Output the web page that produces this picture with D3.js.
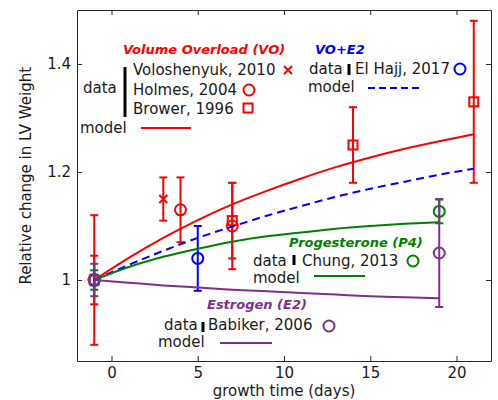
<!DOCTYPE html>
<html>
<head>
<meta charset="utf-8">
<script src="https://cdn.jsdelivr.net/npm/d3@7"></script>
<style>
  body { margin: 0; background: white; }
  svg { display: block; font-family: "DejaVu Sans", sans-serif; }
</style>
</head>
<body>
<svg id="chart" width="498" height="400"></svg>
<script>
// observed data: day, relative LV weight, error half-width
const voloDays = [3];
const voloVals = [1.15];
const voloErr = [0.04];

const holmesDays = [-1, 4, 7];
const holmesVals = [1.0, 1.13, 1.10];
const holmesErr = [0.12, 0.06, 0.08];

const browerDays = [-1, 7, 14, 21];
const browerVals = [1.0, 1.11, 1.25, 1.33];
const browerErr = [0.045, 0.07, 0.07, 0.15];

const hajjDays = [-1, 5];
const hajjVals = [1.0, 1.04];
const hajjErr = [0.01, 0.06];

const chungDays = [-1, 19];
const chungVals = [1.0, 1.127];
const chungErr = [0.018, 0.022];

const babikerDays = [-1, 19];
const babikerVals = [1.0, 1.05];
const babikerErr = [0.03, 0.1];

// model curves
const longDays = [-1, 1, 3, 5, 7, 9, 11, 13, 15, 17, 19, 21];
const voModel = [1, 1.041, 1.078, 1.111, 1.140, 1.165, 1.188, 1.209, 1.227, 1.243, 1.257, 1.270];
const voE2Model = [1, 1.028, 1.054, 1.078, 1.099, 1.119, 1.137, 1.154, 1.169, 1.182, 1.195, 1.206];
const shortDays = [-1, 1, 3, 5, 7, 9, 11, 13, 15, 17, 19];
const p4Model = [1, 1.024, 1.043, 1.058, 1.071, 1.081, 1.088, 1.095, 1.100, 1.104, 1.107];
const e2Model = [1, 0.995, 0.990, 0.986, 0.982, 0.979, 0.976, 0.973, 0.970, 0.968, 0.966];

const xTicks = [0, 5, 10, 15, 20];
const yTicks = [1, 1.2, 1.4];

const colours = { vo: "#ff0000", voe2: "#0000ff", p4: "#008000", e2: "#7e2f8e" };

const svg = d3.select("#chart");
const x = d3.scaleLinear().domain([-2, 22]).range([77, 491]);
const y = d3.scaleLinear().domain([0.85, 1.5]).range([361, 10]);

const zip = (days, vals, err) => days.map((d, i) => ({ t: d, v: vals[i], e: err ? err[i] : 0 }));

// axes
const axisCol = "#262626";
const gB = svg.append("g").attr("transform", `translate(0,${y.range()[0]})`)
    .call(d3.axisBottom(x).tickValues(xTicks).tickSizeInner(-5).tickSizeOuter(0).tickPadding(6));
const gL = svg.append("g").attr("transform", `translate(${x.range()[0]},0)`)
    .call(d3.axisLeft(y).tickValues(yTicks).tickSizeInner(-5).tickSizeOuter(0).tickPadding(6).tickFormat(d3.format("~g")));
const gT = svg.append("g").attr("transform", `translate(0,${y.range()[1]})`)
    .call(d3.axisTop(x).tickValues(xTicks).tickSizeInner(-5).tickSizeOuter(0).tickFormat(""));
const gR = svg.append("g").attr("transform", `translate(${x.range()[1]},0)`)
    .call(d3.axisRight(y).tickValues(yTicks).tickSizeInner(-5).tickSizeOuter(0).tickFormat(""));
[gB, gL, gT, gR].forEach(g => {
    g.selectAll("path, line").attr("stroke", axisCol);
    g.selectAll("text").attr("font-size", 15).attr("fill", "#1a1a1a").attr("font-family", "DejaVu Sans");
});

svg.append("text")
    .attr("x", x(10)).attr("y", 396)
    .attr("text-anchor", "middle").attr("font-size", 15).attr("fill", "#1a1a1a")
    .text("growth time (days)");
svg.append("text")
    .attr("transform", `translate(31,${y(1.193)})rotate(-90)`)
    .attr("text-anchor", "middle").attr("font-size", 15).attr("fill", "#1a1a1a")
    .text("Relative change in LV Weight");

// marker drawers
const drawMarker = (g, type, cx, cy, col) => {
    if (type === "circle") {
        g.append("circle").attr("cx", cx).attr("cy", cy).attr("r", 5.5)
            .attr("fill", "none").attr("stroke", col).attr("stroke-width", 2);
    } else if (type === "square") {
        g.append("rect").attr("x", cx - 4.5).attr("y", cy - 4.5).attr("width", 9).attr("height", 9)
            .attr("fill", "none").attr("stroke", col).attr("stroke-width", 2);
    } else {
        g.append("path").attr("d", `M${cx - 4},${cy - 4}L${cx + 4},${cy + 4}M${cx - 4},${cy + 4}L${cx + 4},${cy - 4}`)
            .attr("stroke", col).attr("stroke-width", 2);
    }
};

const drawData = (data, type, col) => {
    const g = svg.append("g");
    data.forEach(d => {
        const cx = x(d.t);
        g.append("line").attr("x1", cx).attr("x2", cx).attr("y1", y(d.v - d.e)).attr("y2", y(d.v + d.e))
            .attr("stroke", col).attr("stroke-width", 2);
        [d.v - d.e, d.v + d.e].forEach(v => {
            g.append("line").attr("x1", cx - 4).attr("x2", cx + 4).attr("y1", y(v)).attr("y2", y(v))
                .attr("stroke", col).attr("stroke-width", 2);
        });
        drawMarker(g, type, cx, y(d.v), col);
    });
};

const line = d3.line().x(d => x(d.t)).y(d => y(d.v)).curve(d3.curveMonotoneX);
const drawModel = (data, col, dash) => {
    svg.append("path").datum(data).attr("d", line)
        .attr("fill", "none").attr("stroke", col).attr("stroke-width", 2)
        .attr("stroke-dasharray", dash || null);
};

// VO
drawData(zip(voloDays, voloVals, voloErr), "x", colours.vo);
drawData(zip(holmesDays, holmesVals, holmesErr), "circle", colours.vo);
drawData(zip(browerDays, browerVals, browerErr), "square", colours.vo);
drawModel(zip(longDays, voModel), colours.vo);
// VO+E2
drawData(zip(hajjDays, hajjVals, hajjErr), "circle", colours.voe2);
drawModel(zip(longDays, voE2Model), colours.voe2, "8,5");
// P4
drawData(zip(chungDays, chungVals, chungErr), "circle", colours.p4);
drawModel(zip(shortDays, p4Model), colours.p4);
// E2
drawModel(zip(shortDays, e2Model), colours.e2);
drawData(zip(babikerDays, babikerVals, babikerErr), "circle", colours.e2);

// legends
const leg = svg.append("g").attr("font-size", 15).attr("fill", "#1a1a1a");
const title = (tx, ty, txt, col) => leg.append("text").attr("x", tx).attr("y", ty)
    .attr("font-size", 13).attr("font-weight", "bold").attr("font-style", "italic")
    .attr("fill", col).text(txt);
const label = (tx, ty, txt) => leg.append("text").attr("x", tx).attr("y", ty).text(txt);
const bar = (bx, y1, y2) => leg.append("line").attr("x1", bx).attr("x2", bx).attr("y1", y1).attr("y2", y2)
    .attr("stroke", "black").attr("stroke-width", 3);
const sample = (x1, x2, ly, col, dash) => leg.append("line").attr("x1", x1).attr("x2", x2).attr("y1", ly).attr("y2", ly)
    .attr("stroke", col).attr("stroke-width", 2).attr("stroke-dasharray", dash || null);

title(123, 54, "Volume Overload (VO)", colours.vo);
label(83, 93, "data");
bar(125, 67, 117);
label(133, 75, "Voloshenyuk, 2010");
drawMarker(leg, "x", 288, 70, colours.vo);
label(133, 95, "Holmes, 2004");
drawMarker(leg, "circle", 249, 90, colours.vo);
label(133, 114, "Brower, 1996");
drawMarker(leg, "square", 248, 108, colours.vo);
label(80, 133, "model");
sample(141, 191, 128, colours.vo);

title(315, 54, "VO+E2", colours.voe2);
label(309, 74, "data");
bar(349, 64, 75);
label(355, 74, "El Hajj, 2017");
drawMarker(leg, "circle", 460, 69, colours.voe2);
label(308, 92, "model");
sample(368, 420, 88, colours.voe2, "7,4");

title(289, 247, "Progesterone (P4)", colours.p4);
label(253, 266, "data");
bar(294, 255, 265);
label(302, 266, "Chung, 2013");
drawMarker(leg, "circle", 413, 261, colours.p4);
label(253, 283, "model");
sample(314, 365, 276, colours.p4);

title(207, 309, "Estrogen (E2)", colours.e2);
label(164, 330, "data");
bar(203, 322, 332);
label(208, 330, "Babiker, 2006");
drawMarker(leg, "circle", 329, 326, colours.e2);
label(158, 347, "model");
sample(220, 272, 343, colours.e2);
</script>
</body>
</html>
